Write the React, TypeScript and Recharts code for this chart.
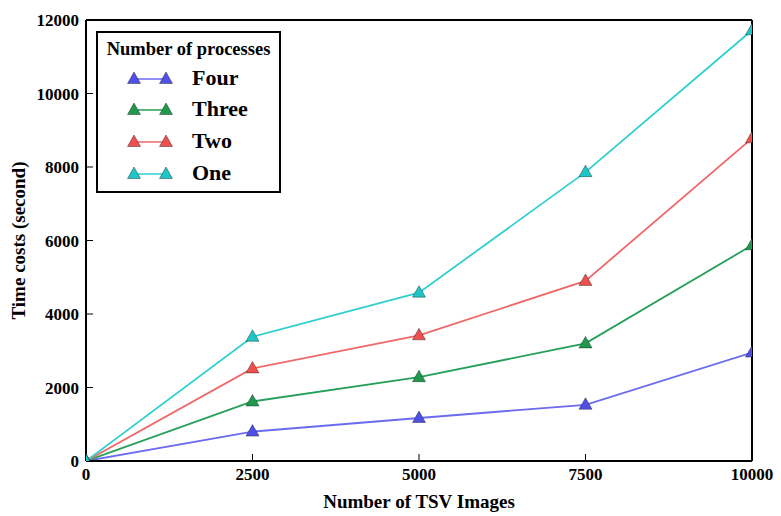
import { LineChart, Line, XAxis, YAxis, Legend } from 'recharts'

const images = [0, 2500, 5000, 7500, 10000]
const four = [0, 800, 1170, 1530, 2950]
const three = [0, 1620, 2280, 3200, 5870]
const two = [0, 2520, 3420, 4900, 8780]
const one = [0, 3380, 4580, 7860, 11720]
const xTicks = [0, 2500, 5000, 7500, 10000]
const yTicks = [0, 2000, 4000, 6000, 8000, 10000, 12000]

const series = [
  { key: 'four', name: 'Four', color: '#6b6bf0', fill: '#5050e6', values: four },
  { key: 'three', name: 'Three', color: '#25a05a', fill: '#20994f', values: three },
  { key: 'two', name: 'Two', color: '#f06767', fill: '#ee5050', values: two },
  { key: 'one', name: 'One', color: '#2fcfcf', fill: '#1ec6c6', values: one },
]

const data = images.map((x, i) => {
  const row: any = { x }
  series.forEach((s) => (row[s.key] = s.values[i]))
  return row
})

const font = '"Liberation Serif", "Times New Roman", serif'

const Triangle = ({ cx, cy, fill }: any) => {
  if (cx == null || cy == null) return null
  return (
    <polygon
      points={`${cx},${cy - 7} ${cx - 6.5},${cy + 4.5} ${cx + 6.5},${cy + 4.5}`}
      fill={fill}
      stroke="rgba(0,0,0,0.45)"
      strokeWidth={0.8}
    />
  )
}

const LegendBox = () => (
  <div
    style={{
      border: '2px solid #000',
      background: '#fff',
      width: 185,
      height: 162,
      boxSizing: 'border-box',
      fontFamily: font,
      fontWeight: 'bold',
      color: '#000',
    }}
  >
    <div style={{ fontSize: 18.5, textAlign: 'center', marginTop: 6, height: 23, whiteSpace: 'nowrap' }}>
      Number of processes
    </div>
    {series.map((s) => (
      <div key={s.key} style={{ display: 'flex', alignItems: 'center', height: 31.6 }}>
        <svg width={94} height={20}>
          <line x1={36} y1={11} x2={68} y2={11} stroke={s.color} strokeWidth={1.5} />
          <Triangle cx={36} cy={11} fill={s.fill} />
          <Triangle cx={68} cy={11} fill={s.fill} />
        </svg>
        <span style={{ fontSize: 22 }}>{s.name}</span>
      </div>
    ))}
  </div>
)

const tickStyle = { fontFamily: font, fontWeight: 'bold', fontSize: 17, fill: '#000' }
const frame = { stroke: '#000', strokeWidth: 2 }

export default function App() {
  return (
    <div style={{ position: 'fixed', left: 0, top: 0, background: '#fff' }}>
      <LineChart width={781} height={516} data={data} margin={{ top: 19, right: 28, bottom: 0, left: 0 }}>
        <XAxis
          dataKey="x"
          type="number"
          domain={[0, 10000]}
          ticks={xTicks}
          allowDataOverflow
          height={55}
          tickSize={-7}
          tickMargin={14}
          tick={tickStyle}
          axisLine={frame}
          tickLine={{ stroke: '#000' }}
          interval={0}
          label={{
            value: 'Number of TSV Images',
            position: 'insideBottom',
            offset: 8,
            style: { fontFamily: font, fontWeight: 'bold', fontSize: 19, fill: '#000' },
          }}
        />
        <XAxis
          xAxisId="top"
          orientation="top"
          dataKey="x"
          type="number"
          domain={[0, 10000]}
          ticks={xTicks}
          height={1}
          tickSize={-7}
          tickMargin={0}
          tick={false}
          axisLine={frame}
          tickLine={{ stroke: '#000' }}
        />
        <YAxis
          type="number"
          domain={[0, 12000]}
          ticks={yTicks}
          allowDataOverflow
          width={86}
          tickSize={-7}
          tickMargin={14}
          tick={tickStyle}
          axisLine={frame}
          tickLine={{ stroke: '#000' }}
          interval={0}
          label={{
            value: 'Time costs (second)',
            angle: -90,
            position: 'insideLeft',
            offset: 18,
            style: { fontFamily: font, fontWeight: 'bold', fontSize: 19, fill: '#000', textAnchor: 'middle' },
          }}
        />
        <YAxis
          yAxisId="right"
          orientation="right"
          type="number"
          domain={[0, 12000]}
          ticks={yTicks}
          width={1}
          tickSize={-7}
          tickMargin={0}
          tick={false}
          axisLine={frame}
          tickLine={{ stroke: '#000' }}
        />
        {series.map((s) => (
          <Line
            key={s.key}
            dataKey={s.key}
            name={s.name}
            type="linear"
            stroke={s.color}
            strokeWidth={1.8}
            dot={(p: any) => <Triangle key={`${s.key}-${p.index}`} cx={p.cx} cy={p.cy} fill={s.fill} />}
            activeDot={false}
            isAnimationActive={false}
          />
        ))}
        <Legend
          content={<LegendBox />}
          layout="vertical"
          verticalAlign="middle"
          align="center"
          wrapperStyle={{ position: 'absolute', left: 96, top: 31, width: 185 }}
        />
      </LineChart>
    </div>
  )
}
